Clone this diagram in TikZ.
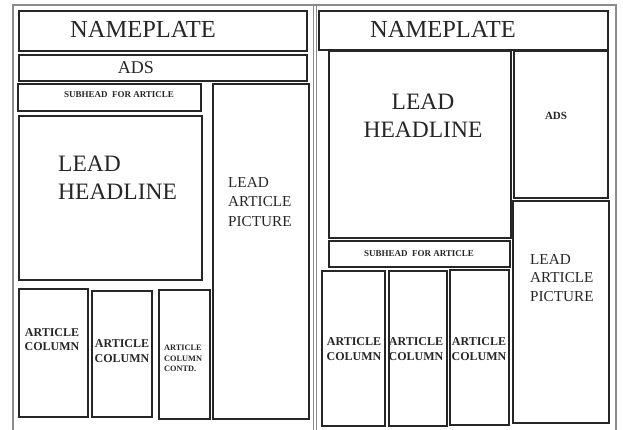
\documentclass[tikz,border=0pt]{standalone}
\usepackage{fontspec}
\setmainfont{Liberation Serif}
\begin{document}
\begin{tikzpicture}[x=1pt,y=-1pt,
  frame/.style={draw=black!45,line width=1.4pt},
  box/.style={draw=black!85,line width=2pt},
  txt/.style={inner sep=0pt,anchor=base,text=black!85},
  txtl/.style={inner sep=0pt,anchor=base west,text=black!85},
  big/.style={font=\fontsize{24.5}{24.5}\selectfont},
  head/.style={font=\fontsize{23.5}{23.5}\selectfont},
  mid/.style={font=\fontsize{18}{18}\selectfont},
  pic/.style={font=\fontsize{15.2}{15.2}\selectfont},
  colb/.style={font=\bfseries\fontsize{12}{12}\selectfont},
  colsm/.style={font=\bfseries\fontsize{8.3}{8.3}\selectfont},
  subh/.style={font=\bfseries\fontsize{9}{9}\selectfont},
  adsb/.style={font=\bfseries\fontsize{11}{11}\selectfont}]
\useasboundingbox (0,0) rectangle (623,430);
% outer frame
\draw[frame] (13,431) -- (13,5) -- (617,5);
\draw[frame] (616,5) -- (616,431);
\draw[frame,line width=1pt] (313.5,5) -- (313.5,431);
\draw[frame,line width=1pt] (316.5,5) -- (316.5,431);
% ---------- left page ----------
\draw[box] (19,11) rectangle (307,51);
\draw[box] (19,55) rectangle (307,81);
\draw[box] (18,84) rectangle (201,111);
\draw[box] (19,116) rectangle (202,280);
\draw[box] (213,84) rectangle (309,419);
\draw[box] (19,289) rectangle (88,417);
\draw[box] (92,291) rectangle (152,417);
\draw[box] (159,290) rectangle (210,419);
\node[txt,big] (lname) at (143,38) {NAMEPLATE};
\node[txt,mid] (lads) at (136,74) {ADS};
\node[txt,subh] (lsub) at (119,98) {SUBHEAD\ \ FOR ARTICLE};
\node[txtl,head] (lh1) at (58,172) {LEAD};
\node[txtl,head] (lh2) at (58,200) {HEADLINE};
\node[txtl,pic] (lp1) at (228,188) {LEAD};
\node[txtl,pic] (lp2) at (228,207) {ARTICLE};
\node[txtl,pic] (lp3) at (228,226) {PICTURE};
\node[txt,colb] (lc1a) at (52,336) {ARTICLE};
\node[txt,colb] (lc1b) at (52,350) {COLUMN};
\node[txt,colb] (lc2a) at (122,347) {ARTICLE};
\node[txt,colb] (lc2b) at (122,362) {COLUMN};
\node[txtl,colsm] (lc3a) at (164,350) {ARTICLE};
\node[txtl,colsm] (lc3b) at (164,361) {COLUMN};
\node[txtl,colsm] (lc3c) at (164,371) {CONTD.};
% ---------- right page ----------
\draw[box] (319,11) rectangle (608,50);
\draw[box] (329,51) rectangle (511,238);
\draw[box] (514,51) rectangle (608,198);
\draw[box] (513,201) rectangle (609,423);
\draw[box] (329,241) rectangle (510,267);
\draw[box] (322,271) rectangle (385,426);
\draw[box] (389,271) rectangle (447,426);
\draw[box] (450,270) rectangle (509,425);
\node[txt,big] (rname) at (443,38) {NAMEPLATE};
\node[txt,head] (rh1) at (423,110) {LEAD};
\node[txt,head] (rh2) at (423,138) {HEADLINE};
\node[txt,adsb] (rads) at (556,120) {ADS};
\node[txt,subh] (rsub) at (419,256) {SUBHEAD\ \ FOR ARTICLE};
\node[txtl,pic] (rp1) at (530,264) {LEAD};
\node[txtl,pic] (rp2) at (530,282) {ARTICLE};
\node[txtl,pic] (rp3) at (530,301) {PICTURE};
\node[txt,colb] (rc1a) at (354,345) {ARTICLE};
\node[txt,colb] (rc1b) at (354,360) {COLUMN};
\node[txt,colb] (rc2a) at (416,345) {ARTICLE};
\node[txt,colb] (rc2b) at (416,360) {COLUMN};
\node[txt,colb] (rc3a) at (479,345) {ARTICLE};
\node[txt,colb] (rc3b) at (479,360) {COLUMN};
\end{tikzpicture}
\end{document}
